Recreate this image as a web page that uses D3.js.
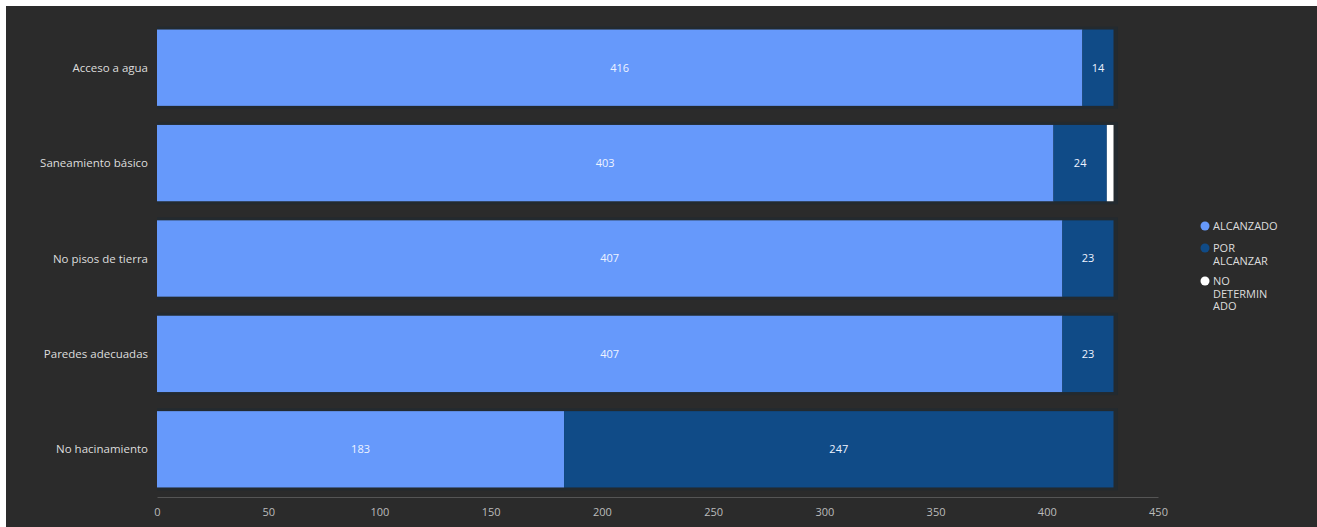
<!DOCTYPE html>
<html><head><meta charset="utf-8">
<script src="https://cdn.jsdelivr.net/npm/d3@7"></script>
<style>
html,body{margin:0;padding:0;background:#fff;}
svg{display:block;}
text{font-family:"Open Sans",sans-serif;}
</style></head>
<body>
<svg id="chart" width="1317" height="527"></svg>
<script>
const categories = ["Acceso a agua","Saneamiento básico","No pisos de tierra","Paredes adecuadas","No hacinamiento"];
const alcanzado = [416, 403, 407, 407, 183];
const porAlcanzar = [14, 24, 23, 23, 247];
const noDeterminado = [0, 3, 0, 0, 0];
const seriesNames = ["ALCANZADO","POR ALCANZAR","NO DETERMINADO"];
const legendLines = [["ALCANZADO"],["POR","ALCANZAR"],["NO","DETERMIN","ADO"]];
const xTicks = [0,50,100,150,200,250,300,350,400,450];
const colors = ["#6699fb","#104b87","#ffffff"];

const svg = d3.select("#chart");
svg.append("rect").attr("x",6).attr("y",6).attr("width",1311).attr("height",521).attr("fill","#2b2b2b");

const x = d3.scaleLinear().domain([0,450]).range([157,1158]);
const y = d3.scaleBand().domain(categories).range([20,497]).paddingInner(0.2).paddingOuter(0.1);

const stackData = categories.map((c,i)=>({cat:c, s0:alcanzado[i], s1:porAlcanzar[i], s2:noDeterminado[i]}));
const stacked = d3.stack().keys(["s0","s1","s2"])(stackData);

// subtle shadow bands behind bars
svg.append("g").selectAll("rect").data(categories).join("rect")
  .attr("x", x(0)).attr("y", d=>y(d)-3).attr("width", x(432)-x(0)).attr("height", y.bandwidth()+6)
  .attr("fill","#232a2f");

stacked.forEach((layer,li)=>{
  const g = svg.append("g");
  g.selectAll("rect").data(layer).join("rect")
    .attr("x", d=>x(d[0])).attr("y", d=>y(d.data.cat))
    .attr("width", d=>Math.max(0, x(d[1])-x(d[0]))).attr("height", y.bandwidth())
    .attr("fill", colors[li]);
  if (li < 2) {
    g.selectAll("text").data(layer).join("text")
      .attr("x", d=>(x(d[0])+x(d[1]))/2).attr("y", d=>y(d.data.cat)+y.bandwidth()/2)
      .attr("dy","0.35em").attr("text-anchor","middle")
      .attr("fill","#eef3ff").attr("font-size",11)
      .text(d=>d[1]-d[0]);
  }
});

// category labels
svg.append("g").selectAll("text").data(categories).join("text")
  .attr("x",148).attr("y",d=>y(d)+y.bandwidth()/2).attr("dy","0.35em")
  .attr("text-anchor","end").attr("fill","#dddddd").attr("font-size",11.5)
  .text(d=>d);

// x axis
const ax = svg.append("g").attr("transform","translate(0,497)")
  .call(d3.axisBottom(x).tickValues(xTicks).tickSize(0).tickPadding(11));
ax.select(".domain").attr("stroke","#555");
ax.selectAll("text").attr("fill","#bbbbbb").attr("font-size",11).attr("font-family","Open Sans, sans-serif");

// legend
const legY = [226, 248, 281];
const lineH = 12.8;
const lg = svg.append("g");
seriesNames.forEach((s,i)=>{
  lg.append("circle").attr("cx",1205).attr("cy",legY[i]).attr("r",4.5).attr("fill",colors[i]);
  legendLines[i].forEach((ln,j)=>{
    lg.append("text").attr("x",1213).attr("y",legY[i] + j*lineH).attr("dy","0.35em")
      .attr("fill","#dddddd").attr("font-size",11)
      .attr("font-family","Liberation Sans, Arial, sans-serif")
      .text(ln);
  });
});
</script>
</body></html>
